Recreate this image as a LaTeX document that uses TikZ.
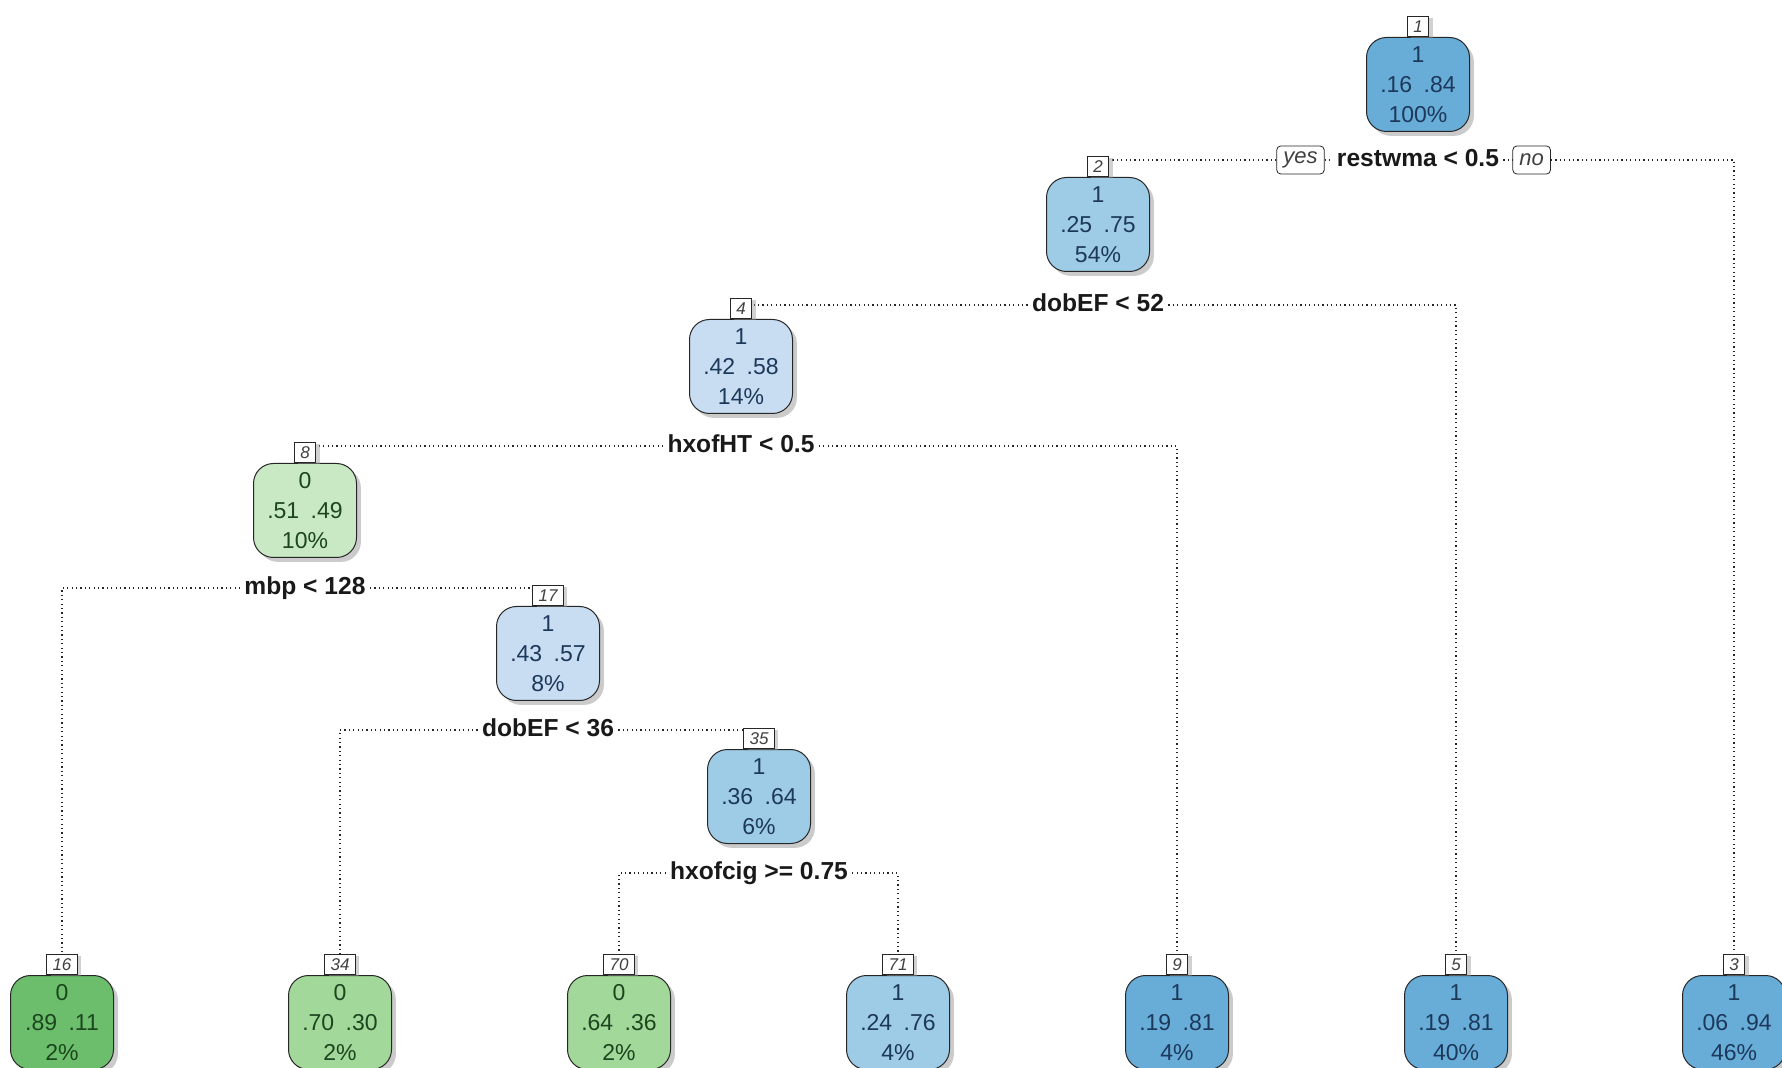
\documentclass[tikz,border=0pt]{standalone}
\usepackage{fontspec}
\setmainfont{Liberation Sans}
\usetikzlibrary{shadows,positioning}
\pgfdeclarelayer{background}
\pgfsetlayers{background,main}
\definecolor{bDark}{RGB}{104,172,216}
\definecolor{bMid}{RGB}{158,203,229}
\definecolor{bLight}{RGB}{200,221,241}
\definecolor{gLight}{RGB}{201,232,196}
\definecolor{gMid}{RGB}{162,216,153}
\definecolor{gDark}{RGB}{108,190,108}
\definecolor{txtB}{RGB}{28,56,90}
\definecolor{txtG}{RGB}{28,70,30}
\newcommand{\gp}{\hspace{0.5em}}
\tikzset{
  tnode/.style={draw=black!85, line width=0.5pt, rounded corners=10pt,
    minimum width=51.5pt, minimum height=47pt, inner sep=0pt, align=center,
    font=\fontsize{11.5}{15}\selectfont, anchor=north,
    drop shadow={shadow xshift=2.2pt, shadow yshift=-2.2pt, fill=black!45, opacity=0.45}},
  blueA/.style={tnode, fill=bDark, text=txtB},
  blueB/.style={tnode, fill=bMid, text=txtB},
  blueC/.style={tnode, fill=bLight, text=txtB},
  greenA/.style={tnode, fill=gLight, text=txtG},
  greenB/.style={tnode, fill=gMid, text=txtG},
  greenC/.style={tnode, fill=gDark, text=txtG},
  nlabel/.style={draw=black!85, fill=white, line width=0.4pt, text=black!75,
    font=\fontsize{8.5}{10}\selectfont\itshape, inner xsep=2.9pt, inner ysep=0pt,
    minimum height=10pt, anchor=south,
    drop shadow={shadow xshift=2pt, shadow yshift=-0.5pt, fill=black!40, opacity=0.45}},
  splitlbl/.style={font=\fontsize{12.3}{14}\selectfont\bfseries, inner xsep=2pt,
    inner ysep=1pt, text height=9pt, text depth=2.5pt, text=black!90},
  yn/.style={draw=black!85, fill=white, rounded corners=2pt, line width=0.4pt,
    font=\fontsize{11}{13}\selectfont\itshape, inner xsep=3.3pt, inner ysep=0pt,
    minimum height=14pt, text=black!75},
  conn/.style={draw=black!85, line width=0.6pt, dash pattern=on 0.6pt off 1.6pt},
}
\begin{document}
\begin{tikzpicture}[x=0.5pt,y=-0.5pt]
\useasboundingbox (0,0) rectangle (1782,1068);
\clip (0,0) rectangle (1782,1068);
% internal nodes
\node[blueA] (n1) at (1418,37) {1\\.16\gp.84\\100\%};
\node[blueB] (n2) at (1098,177) {1\\.25\gp.75\\54\%};
\node[blueC] (n4) at (741,319) {1\\.42\gp.58\\14\%};
\node[greenA] (n8) at (305,463) {0\\.51\gp.49\\10\%};
\node[blueC] (n17) at (548,606) {1\\.43\gp.57\\8\%};
\node[blueB] (n35) at (759,749) {1\\.36\gp.64\\6\%};
% leaves
\node[greenC] (n16) at (62,975) {0\\.89\gp.11\\2\%};
\node[greenB] (n34) at (340,975) {0\\.70\gp.30\\2\%};
\node[greenB] (n70) at (619,975) {0\\.64\gp.36\\2\%};
\node[blueB] (n71) at (898,975) {1\\.24\gp.76\\4\%};
\node[blueA] (n9) at (1177,975) {1\\.19\gp.81\\4\%};
\node[blueA] (n5) at (1456,975) {1\\.19\gp.81\\40\%};
\node[blueA] (n3) at (1734,975) {1\\.06\gp.94\\46\%};
% number labels
\node[nlabel] (l1) at (n1.north) {1};
\node[nlabel] (l2) at (n2.north) {2};
\node[nlabel] (l4) at (n4.north) {4};
\node[nlabel] (l8) at (n8.north) {8};
\node[nlabel] (l17) at (n17.north) {17};
\node[nlabel] (l35) at (n35.north) {35};
\node[nlabel] (l16) at (n16.north) {16};
\node[nlabel] (l34) at (n34.north) {34};
\node[nlabel] (l70) at (n70.north) {70};
\node[nlabel] (l71) at (n71.north) {71};
\node[nlabel] (l9) at (n9.north) {9};
\node[nlabel] (l5) at (n5.north) {5};
\node[nlabel] (l3) at (n3.north) {3};
% split labels
\node[splitlbl] (s1) at (1418,160) {restwma < 0.5};
\node[splitlbl] (s2) at (1098,305) {dobEF < 52};
\node[splitlbl] (s4) at (741,446) {hxofHT < 0.5};
\node[splitlbl] (s8) at (305,588) {mbp < 128};
\node[splitlbl] (s17) at (548,730) {dobEF < 36};
\node[splitlbl] (s35) at (759,873) {hxofcig >= 0.75};
\node[yn, left=4pt of s1] (yes) {yes};
\node[yn, right=4.5pt of s1] (no) {no};
% connectors
\begin{pgfonlayer}{background}
\draw[conn] (yes.west) -| (l2.center);
\draw[conn] (yes.east) -- (s1.west);
\draw[conn] (s1.east) -- (no.west);
\draw[conn] (no.east) -| (l3.center);
\draw[conn] (s2.west) -| (l4.center);
\draw[conn] (s2.east) -| (l5.center);
\draw[conn] (s4.west) -| (l8.center);
\draw[conn] (s4.east) -| (l9.center);
\draw[conn] (s8.west) -| (l16.center);
\draw[conn] (s8.east) -| (l17.center);
\draw[conn] (s17.west) -| (l34.center);
\draw[conn] (s17.east) -| (l35.center);
\draw[conn] (s35.west) -| (l70.center);
\draw[conn] (s35.east) -| (l71.center);
\end{pgfonlayer}
\end{tikzpicture}
\end{document}
